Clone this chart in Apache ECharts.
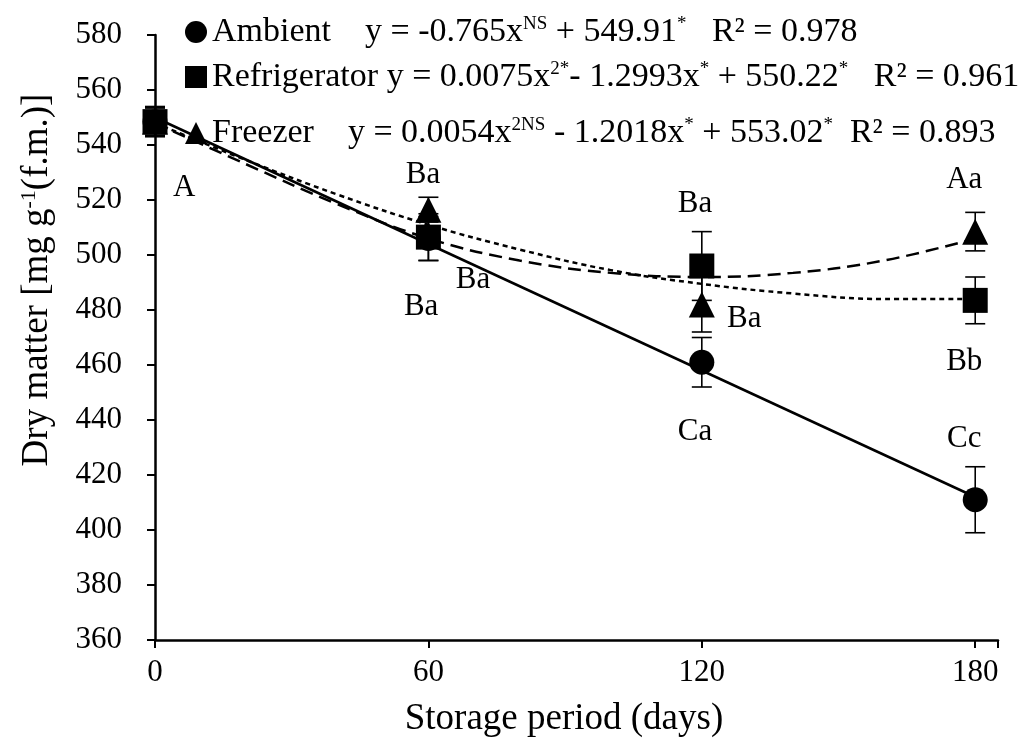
<!DOCTYPE html>
<html>
<head>
<meta charset="utf-8">
<script src="https://cdn.jsdelivr.net/npm/echarts@6/dist/echarts.min.js"></script>
<style>html,body{margin:0;padding:0;background:#fff;}#c{width:1028px;height:740px;}</style>
</head>
<body>
<div id="c"></div>
<script>
// ---- data ----
const days = [0, 60, 120, 180];
const ambientMean = [548.5, 506, 461, 411];
const ambientErr = [5, 8, 9, 12];
const refrigMean = [548.5, 506.5, 496, 483.5];
const refrigErr = [5.5, 8.5, 12.5, 8.5];
const freezerMean = [548.5, 516.5, 482, 508.5];
const freezerErr = [5, 4.5, 10, 7];

// fitted trend lines
const ambientTrendX = [0, 180];
const ambientTrendY = [550, 412];
const trendX = [0, 20, 40, 60, 80, 100, 120, 140, 160, 180];
const refrigTrendY = [548, 534.5, 522, 511, 502, 494.5, 489.5, 486, 484, 484];
const freezerTrendY = [548, 533, 518.5, 506, 498, 493.5, 492, 493.5, 498, 506];

// significance letters (text, day, value)
const letterText = ['A', 'Ba', 'Ba', 'Ba', 'Ba', 'Ba', 'Ca', 'Aa', 'Bb', 'Cc'];
const letterDay = [6.4, 58.8, 58.4, 69.8, 118.5, 129.3, 118.5, 177.6, 177.6, 177.6];
const letterVal = [524.4, 529, 481.1, 490.9, 518.5, 476.7, 435.6, 527.3, 461.1, 433.1];

const xTicks = [0, 60, 120, 180];
const yTicks = [360, 580, 20];

const FONT = "'Liberation Serif', 'Times New Roman', serif";
const zip = (a, b) => a.map((v, i) => [v, b[i]]);
const errData = (m, e) => days.map((d, i) => [d, m[i] - e[i], m[i] + e[i]]);

function renderErr(params, api) {
  const x = api.value(0);
  const lo = api.coord([x, api.value(1)]);
  const hi = api.coord([x, api.value(2)]);
  const hw = 10;
  const st = { stroke: '#000', lineWidth: 1.6 };
  return {
    type: 'group',
    children: [
      { type: 'line', shape: { x1: lo[0], y1: lo[1], x2: hi[0], y2: hi[1] }, style: st },
      { type: 'line', shape: { x1: lo[0] - hw, y1: lo[1], x2: lo[0] + hw, y2: lo[1] }, style: st },
      { type: 'line', shape: { x1: hi[0] - hw, y1: hi[1], x2: hi[0] + hw, y2: hi[1] }, style: st }
    ]
  };
}

const supStyle = { fontSize: 19, fontFamily: FONT, color: '#000', verticalAlign: 'top', padding: [0, 0, 12, 0] };
const legendBase = {
  orient: 'horizontal', left: 185, itemWidth: 22, itemHeight: 22, padding: 0,
  selectedMode: false,
  textStyle: { fontFamily: FONT, fontSize: 34, color: '#000', rich: { sup: supStyle } }
};

const chart = echarts.init(document.getElementById('c'), null, { renderer: 'canvas' });
chart.setOption({
  backgroundColor: '#fff',
  animation: false,
  grid: { left: 155, right: 30, top: 35, bottom: 100 },
  xAxis: {
    type: 'value', min: xTicks[0], max: 185, interval: 60,
    axisLine: { lineStyle: { color: '#000', width: 2.5 } },
    axisTick: { show: true, length: 8, lineStyle: { color: '#000', width: 2 } },
    splitLine: { show: false },
    axisLabel: {
      color: '#000', fontFamily: FONT, fontSize: 31, margin: 17,
      formatter: v => (xTicks.indexOf(v) >= 0 ? String(v) : '')
    }
  },
  yAxis: {
    type: 'value', min: yTicks[0], max: yTicks[1], interval: yTicks[2],
    axisLine: { show: true, lineStyle: { color: '#000', width: 2.5 } },
    axisTick: { show: true, length: 8, lineStyle: { color: '#000', width: 2 } },
    splitLine: { show: false },
    axisLabel: { color: '#000', fontFamily: FONT, fontSize: 31, margin: 33 }
  },
  legend: [
    Object.assign({}, legendBase, {
      top: 15, data: [{ name: 'Ambient', icon: 'circle' }],
      formatter: () => 'Ambient    y = -0.765x{sup|NS} + 549.91{sup|*}   R² = 0.978'
    }),
    Object.assign({}, legendBase, {
      top: 60, data: [{ name: 'Refrigerator', icon: 'rect' }],
      formatter: () => 'Refrigerator y = 0.0075x{sup|2*}- 1.2993x{sup|*} + 550.22{sup|*}   R² = 0.961'
    }),
    Object.assign({}, legendBase, {
      top: 116, data: [{ name: 'Freezer', icon: 'triangle' }],
      formatter: () => 'Freezer    y = 0.0054x{sup|2NS} - 1.2018x{sup|*} + 553.02{sup|*}  R² = 0.893'
    })
  ],
  graphic: [
    {
      type: 'text', x: 37, y: 280, rotation: Math.PI / 2,
      style: {
        text: 'Dry matter [mg g{sup|-1}(f.m.)]',
        fontFamily: FONT, fontSize: 37, fill: '#000', align: 'center', verticalAlign: 'middle',
        rich: { sup: { fontSize: 22, fontFamily: FONT, fill: '#000', verticalAlign: 'top', padding: [0, 0, 14, 0] } }
      }
    },
    {
      type: 'text', x: 564, y: 719,
      style: { text: 'Storage period (days)', fontFamily: FONT, fontSize: 37, fill: '#000', align: 'center', verticalAlign: 'middle' }
    }
  ],
  series: [
    { name: 'amb-trend', type: 'line', data: zip(ambientTrendX, ambientTrendY), showSymbol: false, symbol: 'none',
      lineStyle: { color: '#000', width: 2.5, type: 'solid' }, z: 2 },
    { name: 'ref-trend', type: 'line', data: zip(trendX, refrigTrendY), smooth: 0.4, showSymbol: false, symbol: 'none',
      lineStyle: { color: '#000', width: 2.5, type: [5, 4] }, z: 2 },
    { name: 'frz-trend', type: 'line', data: zip(trendX, freezerTrendY), smooth: 0.4, showSymbol: false, symbol: 'none',
      lineStyle: { color: '#000', width: 2.5, type: [13, 7] }, z: 2 },
    { name: 'amb-err', type: 'custom', renderItem: renderErr, data: errData(ambientMean, ambientErr), encode: { x: 0, y: [1, 2] }, z: 3 },
    { name: 'frz-err', type: 'custom', renderItem: renderErr, data: errData(freezerMean, freezerErr), encode: { x: 0, y: [1, 2] }, z: 3 },
    { name: 'ref-err', type: 'custom', renderItem: renderErr, data: errData(refrigMean, refrigErr), encode: { x: 0, y: [1, 2] }, z: 3 },
    { name: 'Ambient', type: 'scatter', data: zip(days, ambientMean), symbol: 'circle', symbolSize: 25,
      itemStyle: { color: '#000', opacity: 1 }, clip: false, z: 4 },
    { name: 'Freezer', type: 'scatter', data: zip(days, freezerMean), symbol: 'triangle', symbolSize: [26, 26],
      itemStyle: { color: '#000', opacity: 1 }, clip: false, z: 4 },
    { name: 'Refrigerator', type: 'scatter', data: zip(days, refrigMean), symbol: 'rect', symbolSize: 25,
      itemStyle: { color: '#000', opacity: 1 }, clip: false, z: 4 },
    { name: 'letters', type: 'scatter', symbolSize: 0, clip: false, silent: true, z: 5,
      itemStyle: { opacity: 1, color: '#000' },
      data: letterText.map((t, i) => ({ value: [letterDay[i], letterVal[i]], name: t })),
      label: { show: true, position: 'inside', formatter: p => p.name, color: '#000', opacity: 1, fontFamily: FONT, fontSize: 31 } }
  ]
});
</script>
</body>
</html>
